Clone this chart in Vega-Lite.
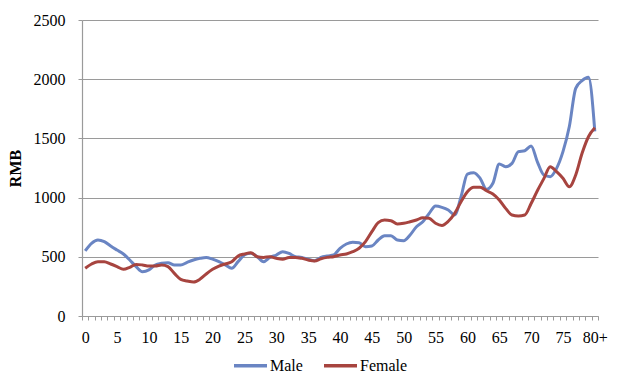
{
  "$schema": "https://vega.github.io/schema/vega-lite/v6.json",
  "width": 516,
  "height": 296,
  "autosize": {"type": "none"},
  "padding": {"left": 82, "top": 20, "right": 21, "bottom": 61},
  "background": "white",
  "config": {"view": {"stroke": null}, "font": "'Liberation Serif', serif"},
  "data": {"values": [
    {"age":0,"sex":"Male","rmb":550},{"age":1,"sex":"Male","rmb":614},{"age":2,"sex":"Male","rmb":642},{"age":3,"sex":"Male","rmb":628},{"age":4,"sex":"Male","rmb":591},{"age":5,"sex":"Male","rmb":557},{"age":6,"sex":"Male","rmb":524},{"age":7,"sex":"Male","rmb":473},{"age":8,"sex":"Male","rmb":417},{"age":9,"sex":"Male","rmb":374},
    {"age":10,"sex":"Male","rmb":389},{"age":11,"sex":"Male","rmb":431},{"age":12,"sex":"Male","rmb":445},{"age":13,"sex":"Male","rmb":450},{"age":14,"sex":"Male","rmb":431},{"age":15,"sex":"Male","rmb":431},{"age":16,"sex":"Male","rmb":453},{"age":17,"sex":"Male","rmb":473},{"age":18,"sex":"Male","rmb":487},{"age":19,"sex":"Male","rmb":495},
    {"age":20,"sex":"Male","rmb":480},{"age":21,"sex":"Male","rmb":459},{"age":22,"sex":"Male","rmb":431},{"age":23,"sex":"Male","rmb":403},{"age":24,"sex":"Male","rmb":459},{"age":25,"sex":"Male","rmb":515},{"age":26,"sex":"Male","rmb":529},{"age":27,"sex":"Male","rmb":501},{"age":28,"sex":"Male","rmb":459},{"age":29,"sex":"Male","rmb":495},
    {"age":30,"sex":"Male","rmb":515},{"age":31,"sex":"Male","rmb":543},{"age":32,"sex":"Male","rmb":529},{"age":33,"sex":"Male","rmb":501},{"age":34,"sex":"Male","rmb":495},{"age":35,"sex":"Male","rmb":479},{"age":36,"sex":"Male","rmb":467},{"age":37,"sex":"Male","rmb":495},{"age":38,"sex":"Male","rmb":507},{"age":39,"sex":"Male","rmb":515},
    {"age":40,"sex":"Male","rmb":572},{"age":41,"sex":"Male","rmb":608},{"age":42,"sex":"Male","rmb":622},{"age":43,"sex":"Male","rmb":619},{"age":44,"sex":"Male","rmb":585},{"age":45,"sex":"Male","rmb":591},{"age":46,"sex":"Male","rmb":642},{"age":47,"sex":"Male","rmb":678},{"age":48,"sex":"Male","rmb":678},{"age":49,"sex":"Male","rmb":642},
    {"age":50,"sex":"Male","rmb":636},{"age":51,"sex":"Male","rmb":684},{"age":52,"sex":"Male","rmb":754},{"age":53,"sex":"Male","rmb":796},{"age":54,"sex":"Male","rmb":867},{"age":55,"sex":"Male","rmb":929},{"age":56,"sex":"Male","rmb":918},{"age":57,"sex":"Male","rmb":895},{"age":58,"sex":"Male","rmb":853},{"age":59,"sex":"Male","rmb":1008},
    {"age":60,"sex":"Male","rmb":1199},{"age":61,"sex":"Male","rmb":1210},{"age":62,"sex":"Male","rmb":1163},{"age":63,"sex":"Male","rmb":1070},{"age":64,"sex":"Male","rmb":1121},{"age":65,"sex":"Male","rmb":1284},{"age":66,"sex":"Male","rmb":1261},{"age":67,"sex":"Male","rmb":1289},{"age":68,"sex":"Male","rmb":1388},{"age":69,"sex":"Male","rmb":1396},
    {"age":70,"sex":"Male","rmb":1436},{"age":71,"sex":"Male","rmb":1300},{"age":72,"sex":"Male","rmb":1191},{"age":73,"sex":"Male","rmb":1177},{"age":74,"sex":"Male","rmb":1247},{"age":75,"sex":"Male","rmb":1388},{"age":76,"sex":"Male","rmb":1600},{"age":77,"sex":"Male","rmb":1923},{"age":78,"sex":"Male","rmb":1988},{"age":79,"sex":"Male","rmb":2016},
    {"age":80,"sex":"Male","rmb":1560},
    {"age":0,"sex":"Female","rmb":403},{"age":1,"sex":"Female","rmb":439},{"age":2,"sex":"Female","rmb":459},{"age":3,"sex":"Female","rmb":459},{"age":4,"sex":"Female","rmb":439},{"age":5,"sex":"Female","rmb":417},{"age":6,"sex":"Female","rmb":394},{"age":7,"sex":"Female","rmb":411},{"age":8,"sex":"Female","rmb":436},{"age":9,"sex":"Female","rmb":431},
    {"age":10,"sex":"Female","rmb":422},{"age":11,"sex":"Female","rmb":422},{"age":12,"sex":"Female","rmb":431},{"age":13,"sex":"Female","rmb":417},{"age":14,"sex":"Female","rmb":360},{"age":15,"sex":"Female","rmb":310},{"age":16,"sex":"Female","rmb":296},{"age":17,"sex":"Female","rmb":287},{"age":18,"sex":"Female","rmb":310},{"age":19,"sex":"Female","rmb":355},
    {"age":20,"sex":"Female","rmb":394},{"age":21,"sex":"Female","rmb":422},{"age":22,"sex":"Female","rmb":439},{"age":23,"sex":"Female","rmb":459},{"age":24,"sex":"Female","rmb":507},{"age":25,"sex":"Female","rmb":524},{"age":26,"sex":"Female","rmb":535},{"age":27,"sex":"Female","rmb":501},{"age":28,"sex":"Female","rmb":495},{"age":29,"sex":"Female","rmb":501},
    {"age":30,"sex":"Female","rmb":487},{"age":31,"sex":"Female","rmb":479},{"age":32,"sex":"Female","rmb":495},{"age":33,"sex":"Female","rmb":495},{"age":34,"sex":"Female","rmb":487},{"age":35,"sex":"Female","rmb":473},{"age":36,"sex":"Female","rmb":465},{"age":37,"sex":"Female","rmb":483},{"age":38,"sex":"Female","rmb":495},{"age":39,"sex":"Female","rmb":501},
    {"age":40,"sex":"Female","rmb":515},{"age":41,"sex":"Female","rmb":524},{"age":42,"sex":"Female","rmb":543},{"age":43,"sex":"Female","rmb":572},{"age":44,"sex":"Female","rmb":628},{"age":45,"sex":"Female","rmb":712},{"age":46,"sex":"Female","rmb":788},{"age":47,"sex":"Female","rmb":810},{"age":48,"sex":"Female","rmb":805},{"age":49,"sex":"Female","rmb":777},
    {"age":50,"sex":"Female","rmb":783},{"age":51,"sex":"Female","rmb":796},{"age":52,"sex":"Female","rmb":811},{"age":53,"sex":"Female","rmb":830},{"age":54,"sex":"Female","rmb":825},{"age":55,"sex":"Female","rmb":783},{"age":56,"sex":"Female","rmb":765},{"age":57,"sex":"Female","rmb":800},{"age":58,"sex":"Female","rmb":867},{"age":59,"sex":"Female","rmb":965},
    {"age":60,"sex":"Female","rmb":1050},{"age":61,"sex":"Female","rmb":1087},{"age":62,"sex":"Female","rmb":1087},{"age":63,"sex":"Female","rmb":1058},{"age":64,"sex":"Female","rmb":1030},{"age":65,"sex":"Female","rmb":980},{"age":66,"sex":"Female","rmb":909},{"age":67,"sex":"Female","rmb":853},{"age":68,"sex":"Female","rmb":845},{"age":69,"sex":"Female","rmb":853},
    {"age":70,"sex":"Female","rmb":950},{"age":71,"sex":"Female","rmb":1060},{"age":72,"sex":"Female","rmb":1160},{"age":73,"sex":"Female","rmb":1261},{"age":74,"sex":"Female","rmb":1219},{"age":75,"sex":"Female","rmb":1163},{"age":76,"sex":"Female","rmb":1092},{"age":77,"sex":"Female","rmb":1191},{"age":78,"sex":"Female","rmb":1374},{"age":79,"sex":"Female","rmb":1514},
    {"age":80,"sex":"Female","rmb":1590}
  ]},
  "mark": {"type": "line", "strokeWidth": 3, "interpolate": "monotone"},
  "encoding": {
    "x": {
      "field": "age", "type": "quantitative",
      "scale": {"domain": [-0.5, 80.5], "nice": false, "zero": false},
      "axis": {
        "title": null, "grid": false,
        "values": [-0.5,0.5,1.5,2.5,3.5,4.5,5.5,6.5,7.5,8.5,9.5,10.5,11.5,12.5,13.5,14.5,15.5,16.5,17.5,18.5,19.5,20.5,21.5,22.5,23.5,24.5,25.5,26.5,27.5,28.5,29.5,30.5,31.5,32.5,33.5,34.5,35.5,36.5,37.5,38.5,39.5,40.5,41.5,42.5,43.5,44.5,45.5,46.5,47.5,48.5,49.5,50.5,51.5,52.5,53.5,54.5,55.5,56.5,57.5,58.5,59.5,60.5,61.5,62.5,63.5,64.5,65.5,66.5,67.5,68.5,69.5,70.5,71.5,72.5,73.5,74.5,75.5,76.5,77.5,78.5,79.5,80.5],
        "labelExpr": "(datum.value + 0.5) % 5 == 0 ? ((datum.value + 0.5) == 80 ? '80+' : format(datum.value + 0.5, 'd')) : ''",
        "labelOffset": 3.2,
        "labelOverlap": false,
        "labelFlush": false,
        "labelFont": "'Liberation Serif', serif", "labelFontSize": 16, "labelColor": "#000000",
        "labelPadding": 9,
        "tickSize": 4, "tickColor": "#9a9a9a", "tickWidth": 1,
        "domainColor": "#9a9a9a", "domainWidth": 1.2
      }
    },
    "y": {
      "field": "rmb", "type": "quantitative",
      "scale": {"domain": [0, 2500], "nice": false},
      "axis": {
        "title": "RMB", "titleFont": "'Liberation Serif', serif", "titleFontSize": 16, "titleFontWeight": "bold", "titleColor": "#000000", "titlePadding": 10,
        "values": [0, 500, 1000, 1500, 2000, 2500],
        "format": "d",
        "grid": true, "gridColor": "#9a9a9a", "gridWidth": 1.2,
        "labelFont": "'Liberation Serif', serif", "labelFontSize": 16, "labelColor": "#000000",
        "labelPadding": 13,
        "tickSize": 4, "tickColor": "#9a9a9a",
        "domainColor": "#9a9a9a", "domainWidth": 1.2
      }
    },
    "color": {
      "field": "sex", "type": "nominal",
      "scale": {"domain": ["Male", "Female"], "range": ["#6A85C3", "#A7443F"]},
      "legend": {
        "title": null, "orient": "none", "direction": "horizontal",
        "legendX": 150, "legendY": 327,
        "symbolType": "stroke", "symbolSize": 1089, "symbolStrokeWidth": 3.5,
        "labelFont": "'Liberation Serif', serif", "labelFontSize": 16, "labelColor": "#000000",
        "labelOffset": 1, "columnPadding": 14
      }
    }
  }
}
